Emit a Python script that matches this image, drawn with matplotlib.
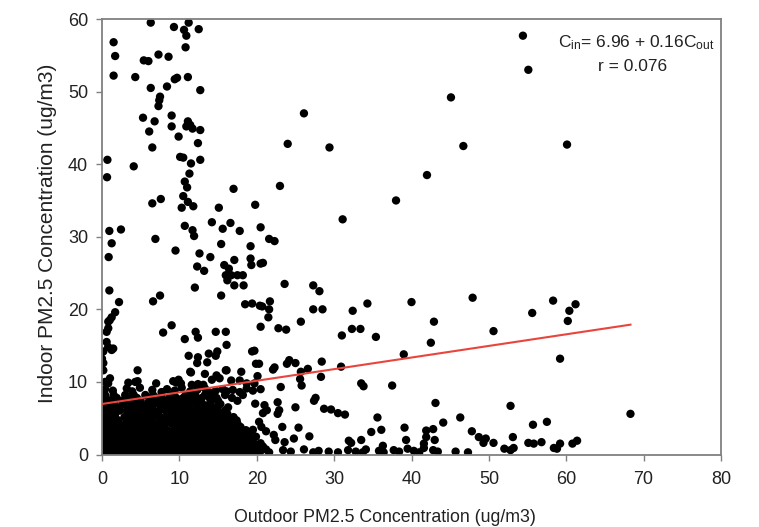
import matplotlib
matplotlib.use("Agg")
import matplotlib.pyplot as plt
import numpy as np

plt.rcParams['font.family'] = ['Liberation Sans', 'DejaVu Sans']
plt.rcParams['mathtext.fontset'] = 'custom'
plt.rcParams['mathtext.rm'] = 'Liberation Sans'
plt.rcParams['mathtext.it'] = 'Liberation Sans'

# ---- data (outdoor x, indoor y) ----
top_x = [6.3, 9.3, 11.2, 10.6, 12.5, 10.9, 1.5, 10.8, 1.7, 5.4, 6.0, 7.3, 8.6, 1.5, 4.3, 9.4, 9.7, 11.1,
         8.4, 6.3, 12.7, 7.5, 7.4, 7.3, 9.0, 5.3, 6.8, 9.0, 11.1, 10.9, 11.4, 11.7, 12.7, 6.1, 9.9, 12.4,
         6.5, 10.1, 10.5, 12.7, 11.5, 0.7, 4.1]
top_y = [59.5, 58.9, 59.5, 58.5, 58.6, 57.7, 56.8, 56.1, 54.9, 54.3, 54.2, 55.1, 54.8, 52.2, 52.0, 51.7, 51.9, 52.0,
         50.7, 50.5, 50.2, 49.3, 48.8, 48.0, 46.7, 46.4, 45.9, 45.2, 45.9, 45.2, 45.4, 44.9, 44.7, 44.5, 43.8, 42.9,
         42.3, 41.0, 40.9, 40.6, 40.1, 40.6, 39.7]

mid_x = [0.65, 11.3, 10.7, 11.0, 17.0, 10.5, 6.5, 7.6, 11.1, 11.8, 10.3, 15.1, 19.8, 14.2, 16.6, 15.6, 17.8,
         20.5, 10.7, 11.7, 11.9, 0.95, 2.45, 1.25, 6.9, 9.5, 0.86, 12.6, 14.0, 15.4, 19.2, 17.1, 15.8, 16.4,
         19.2, 19.3, 20.5, 12.3, 13.2, 16.0, 16.7, 17.5, 18.2, 16.2, 17.1, 18.3, 12.0, 15.4, 0.95, 2.2, 1.7,
         1.25, 6.6, 7.5, 18.5, 19.4, 20.4]
mid_y = [38.2, 38.7, 37.6, 36.8, 36.6, 35.6, 34.6, 35.2, 34.8, 34.2, 34.0, 34.0, 34.4, 32.0, 31.9, 31.1, 30.8,
         31.3, 31.5, 30.9, 30.1, 30.8, 31.0, 29.1, 29.7, 28.1, 27.2, 27.7, 27.2, 29.0, 28.7, 26.8, 26.1, 25.6,
         27.0, 26.1, 26.3, 25.9, 25.3, 24.7, 24.7, 24.7, 24.7, 24.0, 23.3, 23.3, 23.0, 21.9, 22.6, 21.0, 19.6,
         18.9, 21.1, 21.9, 20.7, 20.8, 20.5]

far_x = [45.1, 26.1, 24.0, 29.4, 46.7, 42.0, 23.0, 38.0, 31.1, 21.6, 22.3, 54.4, 55.1, 60.1,
         20.8, 23.6, 27.3, 28.1, 20.7, 21.7, 21.6, 21.5, 27.3, 28.5, 32.4, 34.3, 40.0, 47.9, 42.9, 42.5,
         20.5, 22.8, 23.8, 25.7, 32.3, 33.4, 31.0, 35.4, 19.7, 39.0, 20.3, 20.1, 22.3, 22.1, 23.9, 24.2,
         25.0, 28.4, 30.9, 25.7, 26.6, 25.6, 25.8, 28.3, 33.5, 33.8, 37.5, 23.1, 20.5, 19.8, 21.0, 21.3,
         20.8, 22.7, 22.9, 22.7, 27.4, 27.6, 25.0, 28.7, 29.6, 30.5, 31.4, 43.1, 19.5, 20.3, 20.6, 21.2,
         22.2, 22.4, 23.6, 23.3, 25.4, 26.8, 24.8, 35.6, 36.1, 34.8, 39.1, 39.3, 41.9, 41.9, 41.6, 42.8,
         43.0, 44.1, 46.3, 47.8, 48.7, 32.2, 31.9, 33.5, 36.3,
         58.3, 61.2, 60.4, 55.6, 60.2, 50.6, 59.2, 52.8, 68.3, 57.5, 55.7, 49.6, 49.3, 50.6, 53.1, 52.0,
         52.8, 53.2, 55.1, 55.8, 56.8, 58.4, 58.8, 59.2, 60.8, 61.4]
far_y = [49.2, 47.0, 42.8, 42.3, 42.5, 38.5, 37.0, 35.0, 32.4, 29.7, 29.4, 57.7, 53.0, 42.7,
         26.4, 23.5, 23.3, 22.5, 20.4, 21.1, 20.0, 18.9, 20.0, 20.0, 19.8, 20.8, 21.0, 21.6, 18.3, 15.4,
         17.6, 17.4, 17.2, 18.3, 17.3, 17.3, 16.4, 16.2, 14.3, 13.8, 12.5, 10.8, 12.0, 11.7, 12.5, 13.0,
         12.6, 12.8, 12.1, 11.4, 11.8, 10.4, 9.5, 10.7, 9.8, 9.4, 9.5, 9.3, 9.0, 7.0, 6.8, 6.1,
         5.7, 7.2, 6.1, 5.6, 7.4, 7.8, 6.5, 6.3, 6.2, 5.7, 5.5, 7.1, 3.4, 4.5, 3.8, 3.2,
         2.7, 2.0, 1.7, 3.8, 3.7, 2.5, 2.2, 5.1, 3.4, 3.1, 3.7, 2.0, 3.3, 2.4, 1.5, 3.5,
         2.0, 4.4, 5.1, 3.2, 2.4, 1.6, 1.9, 2.0, 1.2,
         21.2, 20.7, 19.8, 19.5, 18.4, 17.0, 13.2, 6.7, 5.6, 4.5, 4.1, 2.2, 1.6, 1.6, 2.4, 0.8,
         0.6, 0.9, 1.6, 1.5, 1.7, 0.9, 0.8, 1.5, 1.5, 1.9]

floor_x = [20.5, 21.6, 23.4, 24.4, 26.1, 27.3, 28.0, 29.3, 30.5, 31.8, 32.8, 33.7, 34.1, 35.8, 36.4,
           37.7, 38.4, 39.5, 40.3, 41.0, 41.6, 42.8, 43.4, 45.7, 47.3]
floor_y = [0.5, 0.3, 0.6, 0.4, 0.7, 0.3, 0.5, 0.4, 0.3, 0.6, 0.4, 0.3, 0.7, 0.5, 0.3,
           0.6, 0.4, 0.8, 0.5, 0.3, 0.9, 0.6, 0.4, 0.4, 0.3]

low_x = [0.81, 0.81, 0.6, 0.6, 0.8, 1.25, 0.17, 0.0, 0.17, 0.17, 1.03, 0.8, 0.4, 7.9, 9.0, 4.6, 3.4, 4.3,
         4.6, 7.0, 9.2, 9.6, 1.0, 1.45, 12.1, 12.4, 14.7, 16.0, 10.7, 16.1, 11.2, 12.4, 12.3, 13.6, 13.8,
         14.9, 14.7, 19.4, 19.9, 16.1, 11.5, 13.3, 14.8, 15.2, 14.2, 16.7, 17.8, 9.9, 10.2, 11.6, 12.4,
         13.1, 18.7, 19.7, 11.4, 16.0, 18.0, 0.4, 1.4, 3.2, 3.9, 4.9, 6.5, 7.7, 8.4, 9.4, 10.3, 11.4, 12.3,
         13.3, 13.8, 14.7, 15.6, 16.1, 16.9, 17.8, 18.7, 19.5]
low_y = [18.3, 17.4, 16.9, 15.5, 14.8, 14.4, 14.2, 13.2, 12.6, 11.6, 10.5, 9.8, 10.0, 16.8, 17.8, 11.6, 9.9, 10.0,
         10.1, 9.8, 10.1, 9.9, 18.5, 14.6, 16.9, 16.1, 16.9, 16.9, 15.9, 15.1, 13.6, 13.4, 12.6, 12.7, 13.9,
         14.2, 13.6, 14.2, 12.5, 11.6, 11.3, 11.1, 10.9, 10.5, 10.3, 10.2, 10.2, 10.3, 9.8, 9.6, 9.7,
         9.6, 9.8, 9.8, 11.4, 11.6, 11.4, 9.0, 8.8, 9.1, 8.7, 9.2, 8.9, 8.6, 9.0, 8.8, 9.2, 8.7, 8.9,
         9.1, 8.6, 8.8, 9.0, 8.7, 8.9, 8.6, 9.1, 8.8]

# dense cluster near the origin, row by row (x values at each indoor level)
blob_levels = [0.25, 1.1, 2.0, 2.9, 3.8, 4.7, 5.6, 6.5, 7.4, 8.2,
               0.7, 1.55, 2.45, 3.35, 4.25, 5.15, 6.05, 6.95, 7.8]
blob_row0 = [0.1, 0.9, 1.8, 2.6, 3.5, 4.3, 5.1, 6.0, 6.8, 7.7, 8.5, 9.3, 10.2, 11.0, 11.9, 12.7, 13.6, 14.4,
             15.3, 16.1, 17.0, 17.8, 18.7, 19.5, 20.3]
blob_row1 = [0.4, 1.3, 2.1, 3.0, 3.8, 4.7, 5.5, 6.4, 7.2, 8.1, 8.9, 9.8, 10.6, 11.5, 12.3, 13.2, 14.0, 14.9,
             15.7, 16.6, 17.4, 18.3, 19.1, 19.9, 20.8]
blob_row2 = [0.0, 0.9, 1.7, 2.6, 3.4, 4.2, 5.1, 5.9, 6.8, 7.6, 8.5, 9.3, 10.2, 11.0, 11.9, 12.7, 13.5, 14.4,
             15.2, 16.1, 16.9, 17.8, 18.6, 19.4]
blob_row3 = [0.3, 1.2, 2.0, 2.9, 3.7, 4.6, 5.4, 6.3, 7.1, 8.0, 8.8, 9.7, 10.5, 11.4, 12.2, 13.1, 13.9, 14.8,
             15.6, 16.5, 17.3, 18.2, 19.0]
blob_row4 = [0.1, 0.9, 1.8, 2.6, 3.5, 4.3, 5.2, 6.0, 6.9, 7.7, 9.4, 10.3, 11.1, 12.0, 12.8, 13.7, 14.5,
             15.4, 16.2, 17.1, 17.9]
blob_row5 = [0.4, 1.2, 2.1, 3.8, 4.6, 5.5, 6.3, 8.0, 8.9, 9.7, 10.6, 11.4, 12.3, 13.1, 14.0, 14.8, 15.7,
             16.5, 17.4]
blob_row6 = [0.0, 0.9, 1.7, 3.4, 4.3, 5.1, 6.0, 6.8, 8.5, 9.4, 10.2, 11.1, 11.9, 12.8, 13.6, 14.5, 15.3, 16.2]
blob_row7 = [0.3, 1.2, 2.0, 3.7, 4.6, 5.4, 6.3, 7.9, 8.8, 9.6, 10.5, 11.3, 12.9, 13.8, 14.6, 16.3]
blob_row8 = [0.1, 1.0, 2.6, 3.5, 5.0, 6.1, 7.0, 8.3, 9.2, 10.0, 11.6, 12.5, 14.1, 15.0, 17.5]
blob_row9 = [0.4, 1.5, 3.0, 4.1, 5.6, 6.6, 7.7, 9.0, 10.8, 12.0, 13.3, 14.4, 15.9, 18.2]
blob_half0 = [0.5, 1.35, 2.2, 3.05, 3.9, 4.75, 5.55, 6.4, 7.25, 8.1, 8.9, 9.75, 10.6, 11.45, 12.3, 13.15,
              14.0, 14.85, 15.7, 16.55, 17.4, 18.25, 19.1, 19.9, 21.2]
blob_half1 = [0.0, 0.85, 1.7, 2.55, 3.4, 4.25, 5.1, 5.95, 6.8, 7.65, 8.5, 9.35, 10.2, 11.05, 11.9, 12.75,
              13.6, 14.45, 15.3, 16.15, 17.0, 17.85, 18.7, 19.6, 20.5]
blob_half2 = [0.45, 1.3, 2.15, 3.0, 3.85, 4.7, 5.55, 6.4, 7.25, 8.1, 8.95, 9.8, 10.65, 11.5, 12.35, 13.2,
              14.05, 14.9, 15.75, 16.6, 17.45, 18.3, 19.9]
blob_half3 = [0.0, 0.8, 1.65, 2.5, 3.35, 4.2, 5.05, 5.9, 6.75, 7.6, 8.45, 9.3, 10.15, 11.0, 11.85, 12.7,
              13.55, 14.4, 15.25, 16.1, 16.95, 17.8, 18.6]
blob_half4 = [0.5, 1.35, 2.2, 3.05, 3.9, 4.75, 5.6, 6.45, 7.3, 8.15, 9.0, 9.85, 10.7, 11.55, 12.4, 13.25,
              14.1, 14.95, 15.8, 16.65, 17.5]
blob_half5 = [0.0, 0.85, 1.7, 2.9, 3.4, 4.25, 5.1, 5.95, 6.8, 7.6, 8.45, 9.3, 10.15, 11.0, 11.85, 12.7,
              13.55, 14.4, 15.25, 16.1, 17.0]
blob_half6 = [0.45, 1.3, 2.3, 3.2, 4.0, 4.85, 5.7, 6.55, 7.4, 8.25, 9.1, 10.0, 10.9, 11.8, 12.6, 13.4,
              14.2, 15.0, 15.9]
blob_half7 = [0.0, 0.8, 1.6, 2.8, 4.2, 5.0, 5.9, 6.8, 7.5, 8.6, 9.4, 10.2, 11.0, 12.2, 13.0, 13.9, 15.3]
blob_half8 = [0.5, 1.9, 3.3, 4.5, 6.4, 7.4, 8.7, 9.6, 10.5, 11.2, 12.9, 13.9, 14.8, 16.8]
blob_rows = [blob_row0, blob_row1, blob_row2, blob_row3, blob_row4, blob_row5, blob_row6,
             blob_row7, blob_row8, blob_row9,
             blob_half0, blob_half1, blob_half2, blob_half3, blob_half4, blob_half5, blob_half6,
             blob_half7, blob_half8]

fit_intercept = 6.96
fit_slope = 0.16
fit_xmax = 68.3

xs = top_x + mid_x + far_x + floor_x + low_x
ys = top_y + mid_y + far_y + floor_y + low_y
for lvl, row in zip(blob_levels, blob_rows):
    xs += row
    ys += [lvl] * len(row)

fig = plt.figure(figsize=(7.59, 5.27), dpi=100)
ax = fig.add_axes([102 / 759, 1 - 454.5 / 527, 619 / 759, 435.5 / 527])

ax.scatter(xs, ys, s=36, c='black', edgecolors='none', zorder=2, clip_on=True)
lx = np.array([0.0, fit_xmax])
ax.plot(lx, fit_intercept + fit_slope * lx, color='#e8453c', lw=1.5, zorder=3)

ax.set_xlim(0, 80)
ax.set_ylim(0, 60)
ax.set_xticks(range(0, 81, 10))
ax.set_yticks(range(0, 61, 10))

for sp in ax.spines.values():
    sp.set_color('#808080')
    sp.set_linewidth(1.3)
ax.tick_params(direction='out', length=4, width=1.0, color='#808080', labelsize=13,
               labelcolor='#222222')
ax.tick_params(axis='x', pad=8)
ax.tick_params(axis='y', pad=6)

ax.set_xlabel('Outdoor PM2.5 Concentration (ug/m3)', fontsize=12.8, color='#222222')
ax.set_ylabel('Indoor PM2.5 Concentration (ug/m3)', fontsize=15, color='#222222')
ax.xaxis.set_label_coords(0.457, -0.125)
ax.yaxis.set_label_coords(-0.073, 0.509)

ax.text(79.2, 56.8, r'C$_{\mathrm{in}}$= 6.96 + 0.16C$_{\mathrm{out}}$', ha='right', va='center',
        fontsize=12.5, color='#222222')
ax.text(68.6, 53.4, 'r = 0.076', ha='center', va='center', fontsize=12.5, color='#222222')

fig.savefig('out.png', dpi=100)
